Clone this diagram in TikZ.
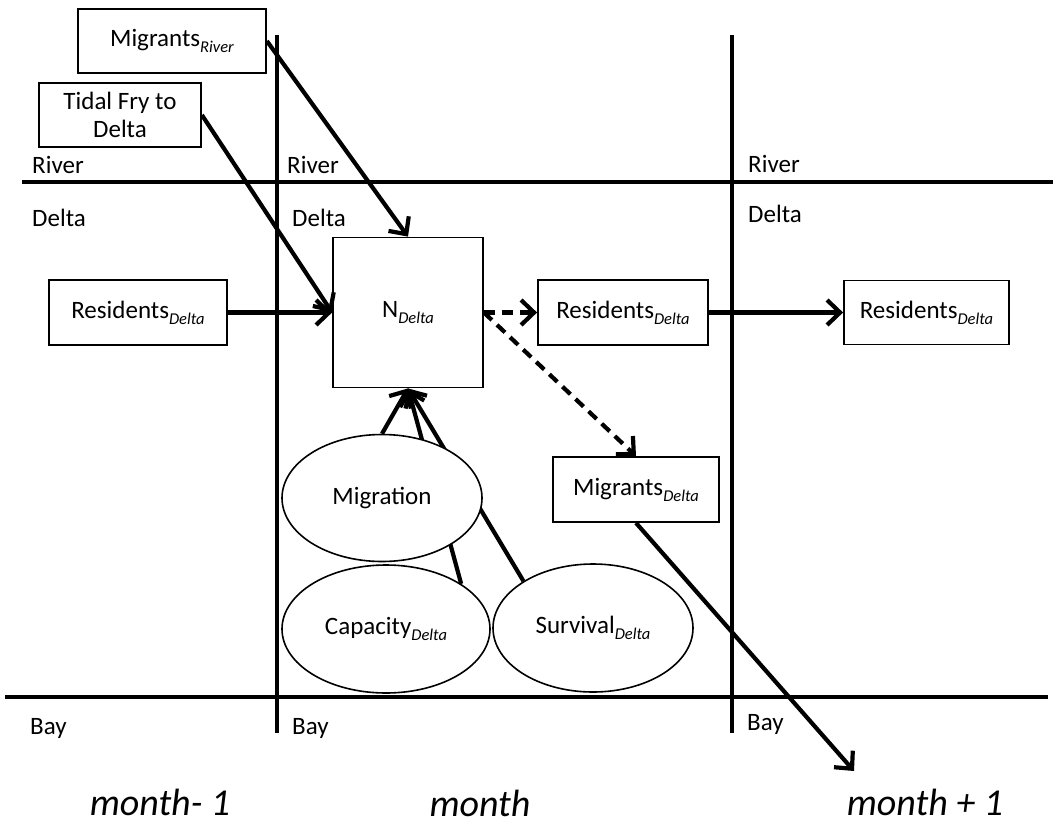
\documentclass[tikz,border=0pt]{standalone}
\usepackage{fontspec}
\setmainfont{Carlito}
\usetikzlibrary{arrows.meta,shapes.geometric}
\newcommand\mysub[1]{\raisebox{-6pt}{\fontsize{16.5}{16.5}\selectfont\itshape #1}}
\begin{document}
\begin{tikzpicture}[x=1pt,y=-1pt,
  every node/.style={font=\fontsize{25}{28}\selectfont},
  boxnode/.style={draw,line width=1.8pt,inner sep=0pt,minimum width=#1,minimum height=64pt},
  ellnode/.style={ellipse,draw,line width=1.6pt,inner sep=0pt,minimum width=#1,minimum height=128pt},
  lbl/.style={anchor=base west,inner sep=0pt},
  mlbl/.style={anchor=base,inner sep=0pt,font=\fontsize{38}{40}\selectfont\itshape},
  frame/.style={line width=4pt},
  arr/.style={line width=4.2pt,-{Straight Barb[length=13pt,width=25pt,line width=4.2pt]}},
  darr/.style={arr,dash pattern=on 11pt off 7pt}]
\useasboundingbox (0,0) rectangle (1053,825);
% frame lines
\draw[frame] (277,35) -- (277,733);
\draw[frame] (732,35) -- (732,733);
\draw[frame] (22,182) -- (1053,182);
\draw[frame] (5,697) -- (1048,697);
% region labels
\node[lbl] (rv1) at (32,173) {River};
\node[lbl] (dl1) at (32,226) {Delta};
\node[lbl] (rv2) at (287,173) {River};
\node[lbl] (dl2) at (292,226) {Delta};
\node[lbl] (rv3) at (748,172) {River};
\node[lbl] (dl3) at (748,222) {Delta};
\node[lbl] (by1) at (30,734) {Bay};
\node[lbl] (by2) at (292,734) {Bay};
\node[lbl] (by3) at (747,730) {Bay};
\node[mlbl] (m1) at (160,815) {month- 1};
\node[mlbl] (m2) at (480,816) {month};
\node[mlbl] (m3) at (925,815) {month + 1};
% boxes
\node[boxnode=188pt] (mriv) at (172,41) {Migrants\mysub{River}};
\node[boxnode=162pt,align=center,font=\fontsize{25}{27.5}\selectfont] (tidal) at (120,115) {Tidal Fry to\\Delta};
\node[boxnode=178pt,minimum height=65pt] (resL) at (138,312.5) {Residents\mysub{Delta}};
\node[boxnode=150pt,minimum height=150pt] (N) at (408,312.5) {N\mysub{Delta}};
\node[boxnode=170pt,minimum height=65pt] (resM) at (623,312.5) {Residents\mysub{Delta}};
\node[boxnode=165pt] (resR) at (926.5,312.5) {Residents\mysub{Delta}};
\node[boxnode=166pt,minimum height=65pt] (migD) at (636,489.5) {Migrants\mysub{Delta}};
\coordinate (out) at (854,771);
% ellipses
\node[ellnode=208pt] (cap) at (386,629) {Capacity\mysub{Delta}};
\node[ellnode=200pt] (surv) at (593,628) {Survival\mysub{Delta}};
\draw[arr] (cap.31.6) -- (N.south);
\draw[arr] (surv.146.7) -- (N.south);
\node[ellnode=200pt,minimum height=127pt,fill=white] (mig) at (382,498) {Migration};
\draw[arr] (mig.north) -- (N.south);
% connectors
\draw[arr] (mriv.east) -- (N.north);
\draw[arr] (tidal.east) -- (N.west);
\draw[arr] (resL.east) -- (N.west);
\draw[darr] (N.east) -- (resM.west);
\draw[darr] (N.east) -- (migD.north);
\draw[arr] (resM.east) -- (resR.west);
\draw[arr] (migD.south) -- (out);
\end{tikzpicture}
\end{document}
